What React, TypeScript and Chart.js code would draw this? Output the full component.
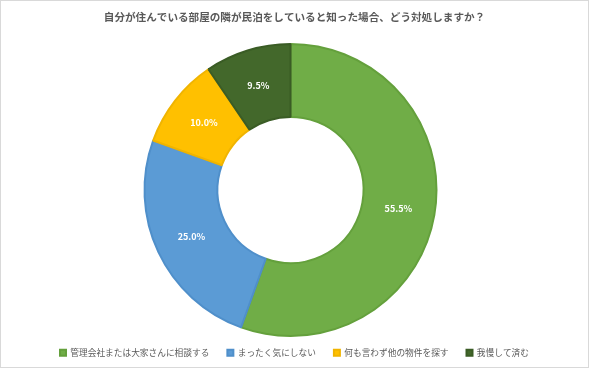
import React, { useEffect, useRef } from "react";
import { Chart, registerables } from "chart.js";

Chart.register(...registerables);

const TITLE = "自分が住んでいる部屋の隣が民泊をしていると知った場合、どう対処しますか？";
const categories = [
  "管理会社または大家さんに相談する",
  "まったく気にしない",
  "何も言わず他の物件を探す",
  "我慢して済む",
];
const values = [55.5, 25.0, 10.0, 9.5];
const colors = ["#70AD47", "#5B9BD5", "#FFC000", "#43682B"];
const borderColors = ["#64a03c", "#4f8fca", "#f0b400", "#3a5c25"];

const FONT = '"Noto Sans CJK JP", "Noto Sans", sans-serif';

const labelPlugin = {
  id: "arcLabels",
  afterLayout(chart: any) {
    // shift the donut slightly left of the centre, as in the reference
    const a = chart.chartArea;
    a.right -= 8;
    a.width -= 8;
  },
  afterDatasetsDraw(chart: any) {
    const { ctx } = chart;
    const meta = chart.getDatasetMeta(0);
    ctx.save();
    ctx.fillStyle = "#ffffff";
    ctx.font = `bold 9px ${FONT}`;
    ctx.textAlign = "center";
    ctx.textBaseline = "middle";
    meta.data.forEach((arc: any, i: number) => {
      const p = arc.getCenterPoint();
      ctx.fillText(values[i].toFixed(1) + "%", p.x, p.y);
    });
    ctx.restore();
  },
};

export default function App() {
  const ref = useRef<HTMLCanvasElement>(null);
  useEffect(() => {
    if (!ref.current) return;
    const chart = new Chart(ref.current, {
      type: "doughnut",
      data: {
        labels: categories,
        datasets: [
          {
            data: values,
            backgroundColor: colors,
            borderColor: borderColors,
            borderWidth: 2,
            clip: false,
          },
        ],
      },
      options: {
        animation: false,
        responsive: false,
        radius: 146,
        cutout: "50%",
        layout: { padding: { top: 0, bottom: 0, left: 0, right: 0 } },
        plugins: {
          title: {
            display: true,
            text: TITLE,
            color: "#595959",
            font: { family: FONT, size: 10.6, weight: "bold" },
            padding: { top: 10, bottom: 26 },
          },
          legend: {
            position: "bottom",
            labels: {
              color: "#595959",
              font: { family: FONT, size: 8.7 },
              boxWidth: 6,
              boxHeight: 6,
              padding: 18,
            },
          },
          tooltip: { enabled: false },
        },
      },
      plugins: [labelPlugin],
    });
    return () => chart.destroy();
  }, []);
  return (
    <div
      style={{
        position: "absolute",
        left: 0,
        top: 0,
        width: 589,
        height: 368,
        boxSizing: "border-box",
        border: "1px solid #d9d9d9",
        background: "#fff",
      }}
    >
      <canvas ref={ref} width={587} height={366} style={{ display: "block" }} />
    </div>
  );
}
